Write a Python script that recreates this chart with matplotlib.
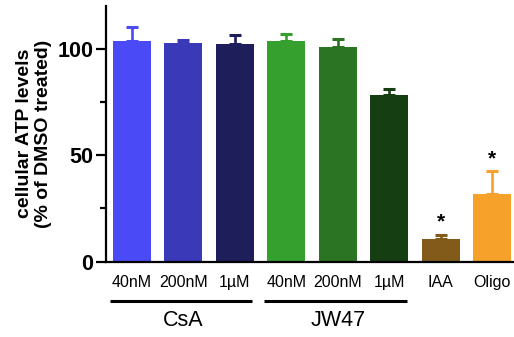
import numpy as np
import matplotlib
matplotlib.use("Agg")
import matplotlib.pyplot as plt
from matplotlib.transforms import blended_transform_factory

plt.rcParams['font.family'] = ['Liberation Sans', 'DejaVu Sans']

labels = ["40nM", "200nM", "1\u00b5M", "40nM", "200nM", "1\u00b5M", "IAA", "Oligo"]
values = [103.7, 102.5, 102.2, 103.4, 100.6, 78.2, 10.5, 31.7]
errors = [6.6, 1.5, 4.1, 3.5, 4.1, 2.8, 2.0, 10.7]
colors = ["#4a4af7", "#3a3ab8", "#1e1e5a", "#35a02d", "#2a7424",
          "#163e13", "#825a19", "#f5a12a"]
groups = [("CsA", 0, 2), ("JW47", 3, 5)]
starred = [6, 7]

fig = plt.figure(figsize=(5.14, 3.37), dpi=100)
ax = fig.add_axes([106 / 514, (337 - 261.5) / 337, 408 / 514, 255.5 / 337])

x = np.arange(len(values))
ax.bar(x, values, width=0.74, color=colors, zorder=2)
for xi, v, e, c in zip(x, values, errors, colors):
    ax.errorbar(xi, v, yerr=[[0], [e]], color=c, lw=1.9, capsize=4.3,
                capthick=2.2, zorder=1)

for i in starred:
    ax.text(x[i], values[i] + errors[i] + 1.5, "*", ha="center", va="bottom",
            fontsize=15, fontweight="bold")

ax.set_xlim(-0.5, 7.42)
ax.set_ylim(0, 120)
ax.set_yticks([0, 50, 100])
ax.set_yticks([25, 75], minor=True)
ax.set_xticks([])
ax.tick_params(axis="y", which="major", length=7, width=1.6, labelsize=15.5, pad=2)
ax.tick_params(axis="y", which="minor", length=4, width=1.6)
for lab in ax.get_yticklabels():
    lab.set_fontweight("bold")
ax.spines["top"].set_visible(False)
ax.spines["right"].set_visible(False)
ax.spines["left"].set_linewidth(1.6)
ax.spines["bottom"].set_linewidth(1.6)

ax.set_ylabel("cellular ATP levels\n(% of DMSO treated)", fontsize=14,
              fontweight="bold", labelpad=4, linespacing=1.15)

tr = blended_transform_factory(ax.transData, fig.transFigure)
for xi, lab in zip(x, labels):
    ax.text(xi, 0.163, lab, transform=tr, ha="center", va="center", fontsize=11.5)

for name, a, b in groups:
    ax.plot([a - 0.43, b + 0.34], [0.107, 0.107], transform=tr, color="black",
            lw=2.2, clip_on=False, solid_capstyle="butt")
    ax.text((a + b) / 2, 0.05, name, transform=tr, ha="center", va="center",
            fontsize=15.5)

fig.savefig("out.png", dpi=100)
